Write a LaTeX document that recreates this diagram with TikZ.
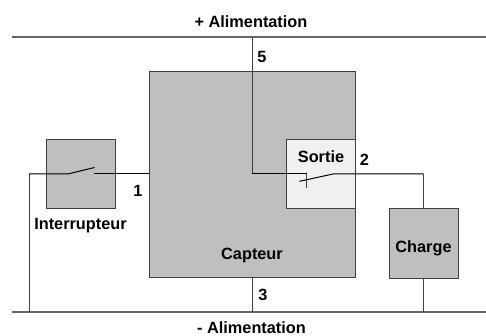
\documentclass[tikz,border=0pt]{standalone}
\usepackage{fontspec}
\setmainfont{Liberation Sans}
\begin{document}
\begin{tikzpicture}[x=1pt,y=-1pt,
  wire/.style={draw=black!75,line width=1pt},
  hwire/.style={draw=black,line width=1pt},
  rail/.style={draw=black!60,line width=1.2pt},
  blockbox/.style={draw=black!75,fill=black!25,line width=1pt,inner sep=0pt,minimum width=#1,minimum height=#1},
  lab/.style={font=\fontsize{16.3}{18}\bfseries\selectfont,inner sep=0pt,text=black}]
\useasboundingbox (0,0) rectangle (486,336);
\node[blockbox=206pt] (capteur) at (252,174.5) {};
\node[blockbox=69pt] (inter) at (80.5,174.5) {};
\node[blockbox=69pt,fill=black!6] (sortie) at (320.5,174.5) {};
\node[blockbox=69pt] (charge) at (423.5,243.5) {};
\coordinate (topL) at (12,37); \coordinate (topR) at (486,37);
\coordinate (botL) at (12,312); \coordinate (botR) at (486,312);
\coordinate (t5) at (252,37); \coordinate (b3) at (252,312);
\coordinate (bl) at (29,312); \coordinate (bc) at (423.5,312);
\coordinate (c5) at (252,174); \coordinate (sA) at (306.7,174);
\coordinate (sB) at (306.7,188); \coordinate (sC) at (299.5,181.3);
\coordinate (sD) at (333,174); \coordinate (cr) at (423.5,174);
\coordinate (lc) at (29,174); \coordinate (iA) at (68,174);
\coordinate (iB) at (94.5,167.5); \coordinate (iC) at (94,174);
\coordinate (iD) at (149,174);
\draw[rail] (topL) -- (topR);
\draw[rail] (botL) -- (botR);
\draw[wire] (t5) -- (c5);
\draw[hwire] (c5) -- (sA);
\draw[wire] (sA) -- (sB);
\draw[hwire] (sC) -- (sD) -- (cr);
\draw[wire] (cr) -- (charge.north);
\draw[wire] (charge.south) -- (bc);
\draw[wire] (capteur.south) -- (b3);
\draw[wire] (bl) -- (lc);
\draw[hwire] (lc) -- (iA) -- (iB);
\draw[hwire] (iC) -- (iD);
\node[lab] (alimP) at (251,22) {+ Alimentation};
\node[lab] (alimM) at (251.5,327.5) {- Alimentation};
\node[lab] (n5) at (262,56.5) {5};
\node[lab] (n1) at (138,190.5) {1};
\node[lab] (n2) at (364.5,159.5) {2};
\node[lab] (n3) at (263,294.5) {3};
\node[lab] (tI) at (80.5,226) {Interrupteur};
\node[lab] (tS) at (321,156.5) {Sortie};
\node[lab] (tCa) at (252,255.5) {Capteur};
\node[lab] (tCh) at (423.5,248) {Charge};
\end{tikzpicture}
\end{document}
